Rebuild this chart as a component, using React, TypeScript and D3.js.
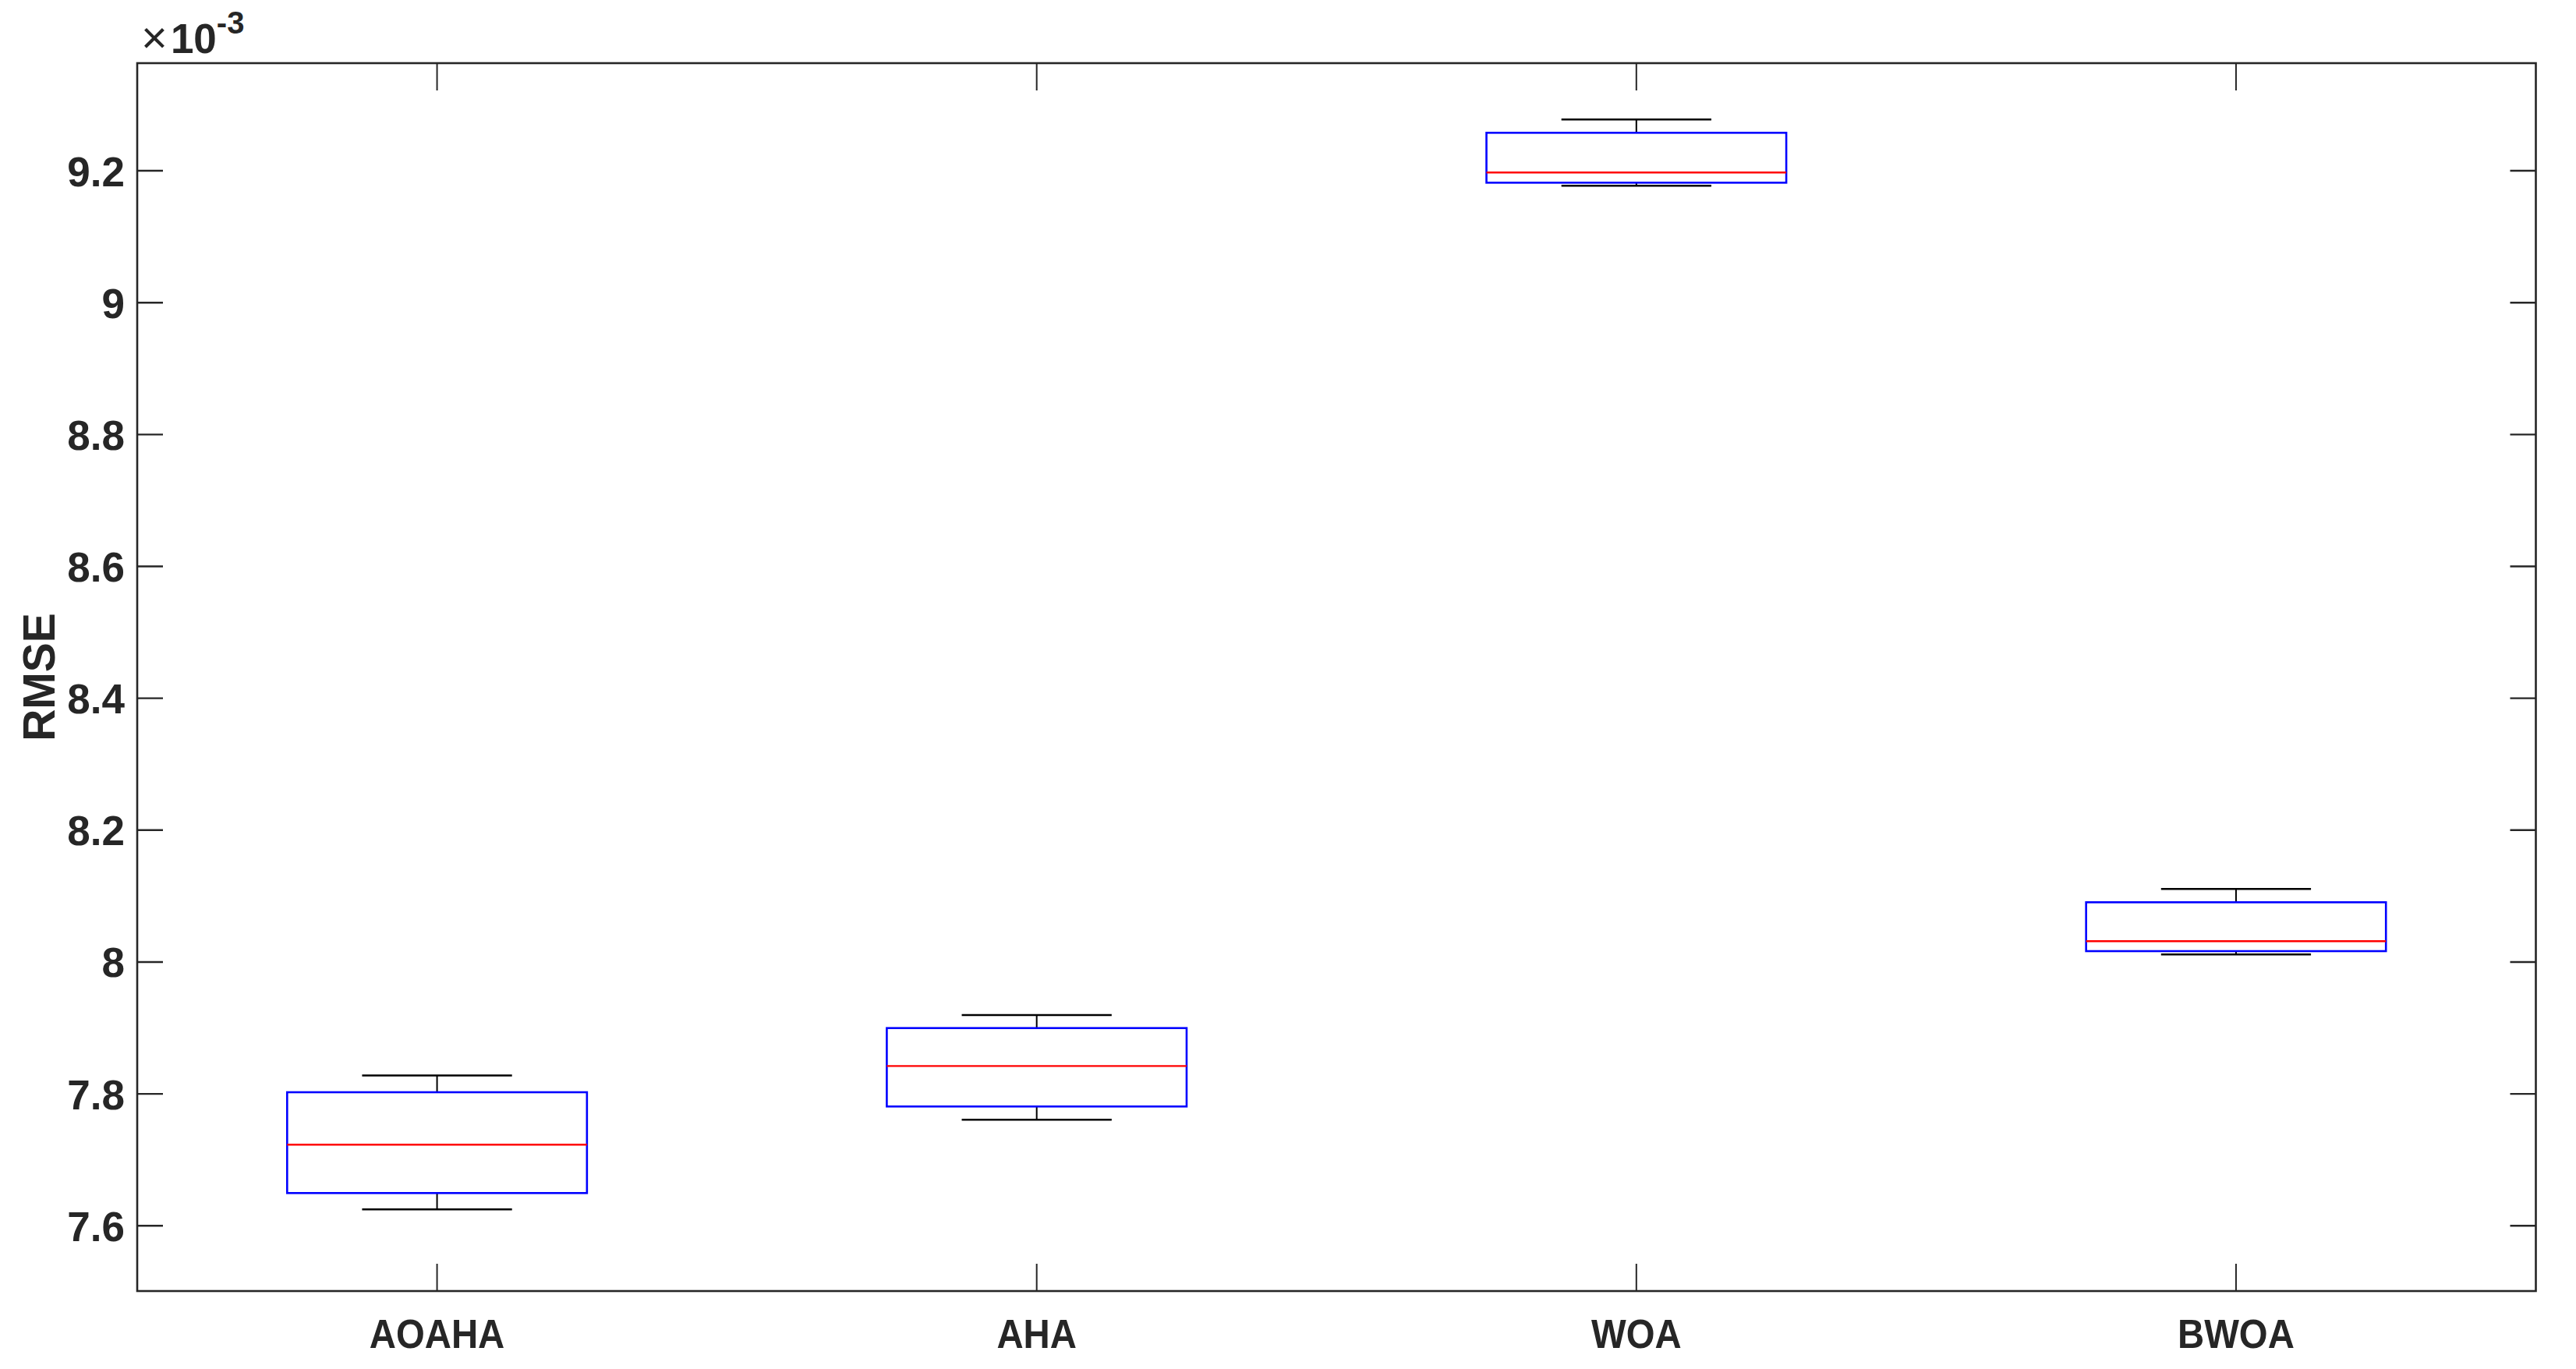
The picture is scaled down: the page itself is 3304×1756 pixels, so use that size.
import React from "react";
import * as d3 from "d3";

// Values are in units of 1e-3 (axis exponent shown as ×10^-3)
const categories = ["AOAHA", "AHA", "WOA", "BWOA"];
const lowerWhisker = [7.6248, 7.7608, 9.1772, 8.0114];
const q1 = [7.6496, 7.7809, 9.1819, 8.0165];
const median = [7.7229, 7.8423, 9.1973, 8.0315];
const q3 = [7.8025, 7.8998, 9.2576, 8.0906];
const upperWhisker = [7.828, 7.9196, 9.2777, 8.1107];
const yTicks = [7.6, 7.8, 8.0, 8.2, 8.4, 8.6, 8.8, 9.0, 9.2];
const yDomain = [7.501, 9.3632];
const yLabel = "RMSE";

const W = 3304;
const H = 1756;
const M = { left: 176, right: 3252.5, top: 81, bottom: 1656 };
const AX = "#262626";
const FONT = "'Liberation Sans', Arial, Helvetica, sans-serif";

export default function App() {
  const x = d3
    .scaleLinear()
    .domain([0.5, categories.length + 0.5])
    .range([M.left, M.right]);
  const y = d3.scaleLinear().domain(yDomain).range([M.bottom, M.top]);
  const boxHalf = 0.25;
  const capHalf = 0.125;
  const tickLen = 33;
  const fmt = (v: number) => d3.format("~g")(+v.toFixed(1));

  return (
    <svg
      width={W}
      height={H}
      style={{ position: "absolute", left: 0, top: 0, background: "#fff" }}
      fontFamily={FONT}
    >
      <rect x={0} y={0} width={W} height={H} fill="#fff" />
      {/* boxes */}
      {categories.map((c, i) => {
        const p = i + 1;
        const cx = x(p);
        return (
          <g key={c}>
            <line x1={cx} x2={cx} y1={y(upperWhisker[i])} y2={y(q3[i])} stroke="#000" strokeWidth={2} />
            <line x1={cx} x2={cx} y1={y(q1[i])} y2={y(lowerWhisker[i])} stroke="#000" strokeWidth={2} />
            <line x1={x(p - capHalf)} x2={x(p + capHalf)} y1={y(upperWhisker[i])} y2={y(upperWhisker[i])} stroke="#000" strokeWidth={2.5} />
            <line x1={x(p - capHalf)} x2={x(p + capHalf)} y1={y(lowerWhisker[i])} y2={y(lowerWhisker[i])} stroke="#000" strokeWidth={2.5} />
            <rect
              x={x(p - boxHalf)}
              y={y(q3[i])}
              width={x(p + boxHalf) - x(p - boxHalf)}
              height={y(q1[i]) - y(q3[i])}
              fill="none"
              stroke="#0000ff"
              strokeWidth={2.6}
            />
            <line x1={x(p - boxHalf)} x2={x(p + boxHalf)} y1={y(median[i])} y2={y(median[i])} stroke="#ff0000" strokeWidth={2.4} />
          </g>
        );
      })}
      {/* axes frame */}
      <rect
        x={M.left}
        y={M.top}
        width={M.right - M.left}
        height={M.bottom - M.top}
        fill="none"
        stroke={AX}
        strokeWidth={2.6}
      />
      {/* y ticks */}
      {yTicks.map((t) => (
        <g key={t}>
          <line x1={M.left} x2={M.left + tickLen} y1={y(t)} y2={y(t)} stroke={AX} strokeWidth={2.4} />
          <line x1={M.right} x2={M.right - tickLen} y1={y(t)} y2={y(t)} stroke={AX} strokeWidth={2.4} />
          <text
            x={M.left - 16}
            y={y(t) + 19.5}
            textAnchor="end"
            fontSize={53}
            fontWeight="bold"
            fill={AX}
          >
            {fmt(t)}
          </text>
        </g>
      ))}
      {/* x ticks */}
      {categories.map((c, i) => (
        <g key={c}>
          <line x1={x(i + 1)} x2={x(i + 1)} y1={M.bottom} y2={M.bottom - 35} stroke={AX} strokeWidth={2} />
          <line x1={x(i + 1)} x2={x(i + 1)} y1={M.top} y2={M.top + 35} stroke={AX} strokeWidth={2} />
          <text
            transform={`translate(${x(i + 1)}, 1729) scale(0.91, 1)`}
            textAnchor="middle"
            fontSize={52}
            fontWeight="bold"
            fill={AX}
          >
            {c}
          </text>
        </g>
      ))}
      {/* exponent */}
      <text x={181} y={67.5} fill={AX} fontSize={53}>
        <tspan fontWeight="normal" fontSize={58}>×</tspan>
        <tspan fontWeight="bold" dx={4}>10</tspan>
        <tspan fontWeight="bold" fontSize={40} dy={-25}>-3</tspan>
      </text>
      {/* y label */}
      <text
        transform={`translate(70, ${(M.top + M.bottom) / 2}) rotate(-90)`}
        textAnchor="middle"
        fontSize={57}
        fontWeight="bold"
        fill={AX}
      >
        {yLabel}
      </text>
    </svg>
  );
}
